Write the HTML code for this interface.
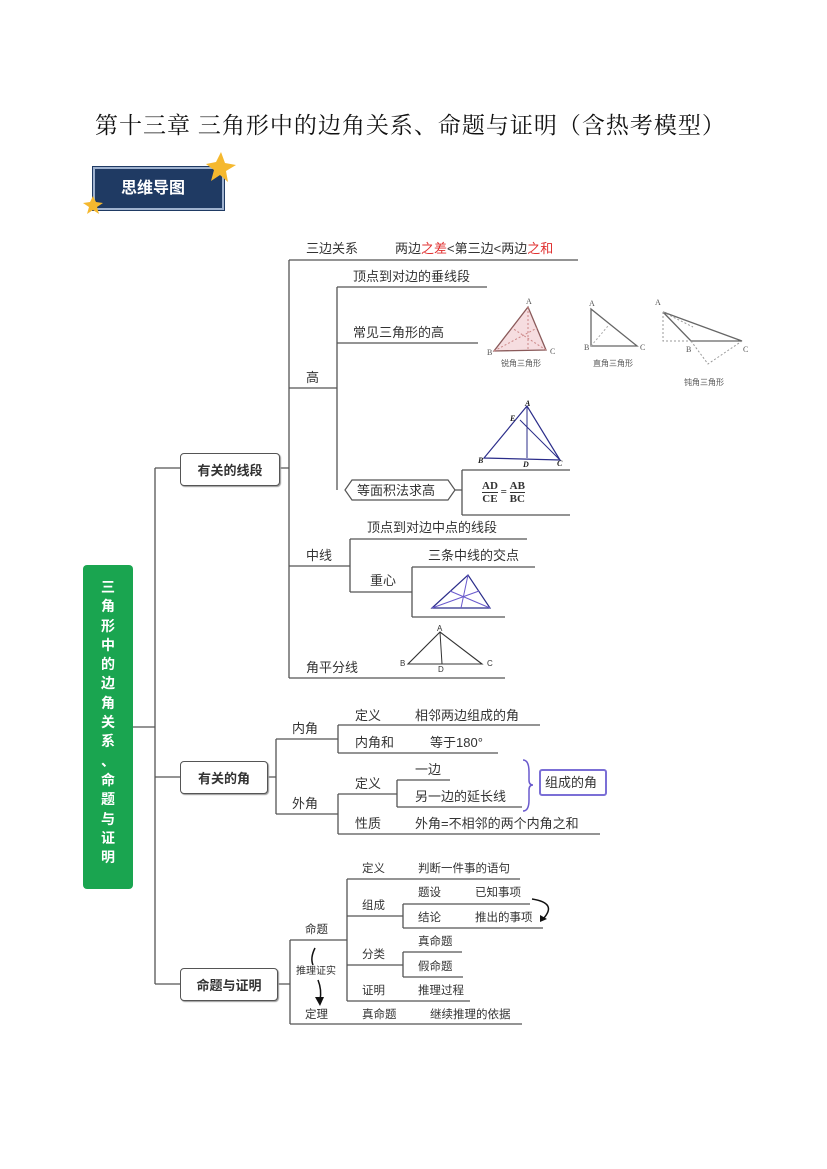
<!DOCTYPE html>
<html><head><meta charset="utf-8"><style>
body{margin:0;background:#fff;}
#p{position:relative;width:827px;height:1169px;overflow:hidden;font-family:"Liberation Sans","Noto Sans CJK SC",sans-serif;color:#333;}
.t{position:absolute;font-size:13px;white-space:nowrap;line-height:1;}
.s{font-size:11.5px;}
.b{position:absolute;border:1.5px solid #555;border-radius:4px;background:#fff;font-weight:bold;font-size:13px;display:flex;align-items:center;justify-content:center;box-shadow:1px 1px 1px #999;}
svg{position:absolute;left:0;top:0;}
.v{position:absolute;left:83px;top:578px;width:50px;display:flex;flex-direction:column;align-items:center;color:#fff;font-weight:bold;font-size:14px;}
.v span{height:19.3px;line-height:19.3px;}
</style></head><body><div id="p">
<div class="t" style="left:95px;top:112px;font-size:23px;letter-spacing:1px;font-family:'Noto Serif CJK SC',serif;color:#111;">第十三章 三角形中的边角关系、命题与证明（含热考模型）</div>
<div style="position:absolute;left:93px;top:167px;width:131px;height:43px;background:#1f3a63;border:2px solid #9fb2cf;box-sizing:border-box;outline:1px solid #1f3a63;"></div>
<div class="t" style="left:121px;top:181px;color:#fff;font-weight:bold;font-size:16px;">思维导图</div>
<svg width="827" height="1169">
<g fill="#f5b82e"><polygon points="221,152 225,163 236,165 226,171 228,182 220,175 211,181 214,170 206,164 216,162"/><polygon points="93,196 96,202 103,203 97,207 99,214 93,210 87,214 89,207 83,203 90,202"/></g>
<g stroke="#555" stroke-width="1.3" fill="none">
<path d="M133,727H155M155,468V984M155,468H180M155,777H180M155,984H180"/>
<path d="M280,468H289M289,260V678M289,260H578M289,388H337M337,287V490M337,287H487M337,343H478M289,566H350M350,539V592M350,539H527M350,592H412M412,567V617M412,567H535M412,617H505M289,678H505"/>
<path d="M455,490H462M462,470V515M462,470H570M462,515H570"/>
<path d="M268,777H276M276,739V814M276,739H338M338,725V753M338,725H540M338,753H498M276,814H338M338,794V834M338,794H397M397,780V807M397,780H450M397,807H522M338,834H600"/>
<path d="M278,984H290M290,940V1024M290,940H347M347,879V1001M347,879H520M347,916H403M403,904V928M403,904H530M403,928H543M347,965H403M403,952V977M403,952H462M403,977H463M347,1001H470M290,1024H522"/>
</g>
<path d="M345,490L352,480H448L455,490L448,500H352Z" fill="#fff" stroke="#555" stroke-width="1.2"/>
<path d="M523,760Q529,760 529,772V780Q529,785 533,785Q529,785 529,790V800Q529,811 523,811" fill="none" stroke="#6a5acd" stroke-width="1.5"/>
<path d="M532,899Q558,903 543,919" fill="none" stroke="#111" stroke-width="1.5"/><path d="M540,915L540,922L547,919Z" fill="#111"/>
<path d="M315,948Q310,958 313,965M318,980Q322,990 320,1000" fill="none" stroke="#111" stroke-width="1.5"/><path d="M315,997L320,1006L324,997Z" fill="#111"/>
<polygon points="528,307 494,351 546,350" fill="#f6dde0" stroke="#8a5a5a" stroke-width="1.3"/>
<path d="M528,307L528,350M494,351L537,328M546,350L512,328" stroke="#c88" stroke-dasharray="2,2" fill="none"/>
<polygon points="591,309 591,346 637,346" fill="none" stroke="#666" stroke-width="1.3"/>
<path d="M591,346L608,326" stroke="#aaa" stroke-dasharray="2,2"/>
<polygon points="663,312 691,341 742,341" fill="none" stroke="#666" stroke-width="1.3"/>
<path d="M663,312V341H691M691,341L708,364L742,341M663,312L693,327" stroke="#999" stroke-dasharray="2,2" fill="none"/>
<g font-size="8" fill="#555" font-family="Liberation Serif,serif"><text x="526" y="304">A</text><text x="487" y="355">B</text><text x="550" y="354">C</text><text x="589" y="306">A</text><text x="584" y="350">B</text><text x="640" y="350">C</text><text x="655" y="305">A</text><text x="686" y="352">B</text><text x="743" y="352">C</text></g>
<g font-size="8" fill="#555" font-family="Noto Sans CJK SC,sans-serif"><text x="501" y="366">锐角三角形</text><text x="593" y="366">直角三角形</text><text x="684" y="385">钝角三角形</text></g>
<polygon points="527,406 484,458 560,460" fill="none" stroke="#2b2d8a" stroke-width="1.2"/>
<path d="M527,406V458M560,460L520,420" stroke="#2b2d8a" fill="none"/>
<g font-size="8" font-style="italic" font-weight="bold" fill="#222" font-family="Liberation Serif,serif"><text x="525" y="406">A</text><text x="510" y="421">E</text><text x="478" y="463">B</text><text x="523" y="467">D</text><text x="557" y="466">C</text></g>
<polygon points="432,608 468,575 490,608" fill="none" stroke="#2b2d8a" stroke-width="1.2"/>
<path d="M432,608L479,591M490,608L450,591M468,575L461,608" stroke="#6a5acd" fill="none"/>
<polygon points="440,632 408,664 482,664" fill="none" stroke="#333" stroke-width="1.1"/>
<path d="M440,632L442,664" stroke="#333"/>
<g font-size="8" fill="#333"><text x="437" y="631">A</text><text x="400" y="666">B</text><text x="438" y="672">D</text><text x="487" y="666">C</text></g>
</svg>
<div style="position:absolute;left:83px;top:565px;width:50px;height:324px;background:#1aa550;border-radius:4px;"></div>
<div class="v"><span>三</span><span>角</span><span>形</span><span>中</span><span>的</span><span>边</span><span>角</span><span>关</span><span>系</span><span>、</span><span>命</span><span>题</span><span>与</span><span>证</span><span>明</span></div>
<div class="b" style="left:180px;top:453px;width:98px;height:31px;">有关的线段</div>
<div class="b" style="left:180px;top:761px;width:86px;height:31px;">有关的角</div>
<div class="b" style="left:180px;top:968px;width:96px;height:31px;">命题与证明</div>
<div class="t" style="left:306px;top:242px;">三边关系</div>
<div class="t" style="left:395px;top:242px;">两边<span style="color:#e03030">之差</span>&lt;第三边&lt;两边<span style="color:#e03030">之和</span></div>
<div class="t" style="left:306px;top:371px;">高</div>
<div class="t" style="left:353px;top:270px;">顶点到对边的垂线段</div>
<div class="t" style="left:353px;top:326px;">常见三角形的高</div>
<div class="t" style="left:357px;top:484px;">等面积法求高</div>
<div class="t" style="left:482px;top:480px;font-family:'Liberation Serif',serif;font-weight:bold;font-size:11px;line-height:12px;text-align:center;"><span style="display:inline-block;vertical-align:middle"><span style="border-bottom:1px solid #333;display:block">AD</span>CE</span> = <span style="display:inline-block;vertical-align:middle"><span style="border-bottom:1px solid #333;display:block">AB</span>BC</span></div>
<div class="t" style="left:306px;top:549px;">中线</div>
<div class="t" style="left:367px;top:521px;">顶点到对边中点的线段</div>
<div class="t" style="left:370px;top:574px;">重心</div>
<div class="t" style="left:428px;top:549px;">三条中线的交点</div>
<div class="t" style="left:306px;top:661px;">角平分线</div>
<div class="t" style="left:292px;top:722px;">内角</div>
<div class="t" style="left:355px;top:709px;">定义</div>
<div class="t" style="left:415px;top:709px;">相邻两边组成的角</div>
<div class="t" style="left:355px;top:736px;">内角和</div>
<div class="t" style="left:430px;top:736px;">等于180°</div>
<div class="t" style="left:292px;top:797px;">外角</div>
<div class="t" style="left:355px;top:777px;">定义</div>
<div class="t" style="left:415px;top:763px;">一边</div>
<div class="t" style="left:415px;top:790px;">另一边的延长线</div>
<div style="position:absolute;left:539px;top:769px;width:68px;height:27px;border:2px solid #7b6fd6;border-radius:3px;box-sizing:border-box;"></div>
<div class="t" style="left:545px;top:776px;">组成的角</div>
<div class="t" style="left:355px;top:817px;">性质</div>
<div class="t" style="left:415px;top:817px;">外角=不相邻的两个内角之和</div>
<div class="t s" style="left:305px;top:925px;">命题</div>
<div class="t s" style="left:296px;top:967px;font-size:10px;">推理证实</div>
<div class="t s" style="left:362px;top:864px;">定义</div>
<div class="t s" style="left:418px;top:864px;">判断一件事的语句</div>
<div class="t s" style="left:362px;top:901px;">组成</div>
<div class="t s" style="left:418px;top:888px;">题设</div>
<div class="t s" style="left:475px;top:888px;">已知事项</div>
<div class="t s" style="left:418px;top:913px;">结论</div>
<div class="t s" style="left:475px;top:913px;">推出的事项</div>
<div class="t s" style="left:362px;top:950px;">分类</div>
<div class="t s" style="left:418px;top:937px;">真命题</div>
<div class="t s" style="left:418px;top:962px;">假命题</div>
<div class="t s" style="left:362px;top:986px;">证明</div>
<div class="t s" style="left:418px;top:986px;">推理过程</div>
<div class="t s" style="left:305px;top:1010px;">定理</div>
<div class="t s" style="left:362px;top:1010px;">真命题</div>
<div class="t s" style="left:430px;top:1010px;">继续推理的依据</div>
</div></body></html>
